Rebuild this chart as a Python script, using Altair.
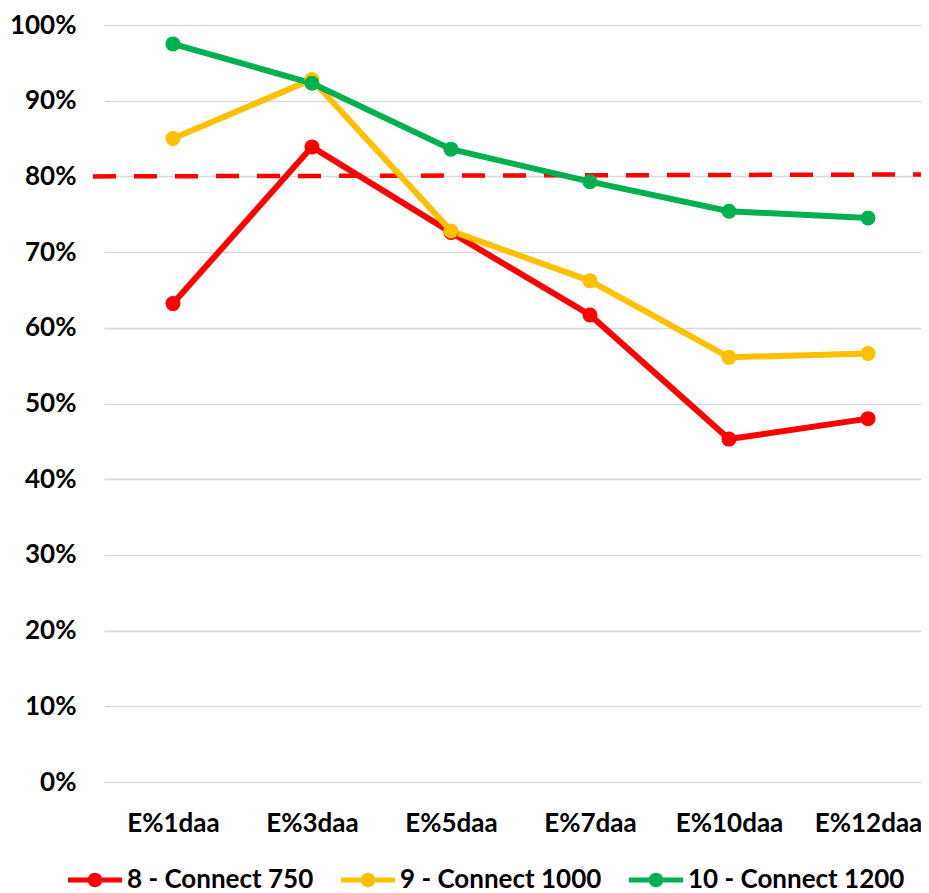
import json
import math
import altair as alt
import pandas as pd

categories = ["E%1daa", "E%3daa", "E%5daa", "E%7daa", "E%10daa", "E%12daa"]
series_names = ["8 - Connect 750", "9 - Connect 1000", "10 - Connect 1200"]
connect_750 = [0.632, 0.839, 0.726, 0.617, 0.453, 0.480]
connect_1000 = [0.850, 0.928, 0.728, 0.662, 0.561, 0.566]
connect_1200 = [0.975, 0.923, 0.836, 0.793, 0.754, 0.745]
series_colors = ["#FF0000", "#FFC000", "#00B050"]
threshold = [0.800, 0.8025]

rows = []
for name, vals in zip(series_names, [connect_750, connect_1000, connect_1200]):
    for i, (c, v) in enumerate(zip(categories, vals)):
        rows.append({"series": name, "cat": c, "idx": i, "value": v})
df = pd.DataFrame(rows)

W, H = 817, 757
FONT = "Lato"
FS = 26

label_expr = json.dumps(categories) + "[datum.value]"

x_enc = alt.X(
    "idx:Q",
    scale=alt.Scale(domain=[-0.496, 5.381], nice=False, zero=False),
    axis=alt.Axis(
        values=list(range(len(categories))),
        labelExpr=label_expr,
        title=None,
        grid=False,
        domain=False,
        ticks=False,
        labelPadding=28,
        labelFontSize=FS,
        labelFont=FONT,
        labelFontWeight="bold",
        labelColor="#000000",
    ),
)
y_enc = alt.Y(
    "value:Q",
    scale=alt.Scale(domain=[0, 1], nice=False),
    axis=alt.Axis(
        values=[i / 10 for i in range(11)],
        format=".0%",
        title=None,
        grid=True,
        gridColor="#d9d9d9",
        gridWidth=1.5,
        domain=False,
        ticks=False,
        labelPadding=28,
        labelFontSize=FS,
        labelFont=FONT,
        labelFontWeight="bold",
        labelColor="#000000",
    ),
)

# legend glyph: a short line with a dot in the middle (unit square coords)
r = 0.27
circle_pts = [
    (r * math.cos(2 * math.pi * k / 24), r * math.sin(2 * math.pi * k / 24))
    for k in range(24)
]
symbol_path = "M-1,-0.095L1,-0.095L1,0.095L-1,0.095Z" + "M" + "L".join(
    f"{px:.3f},{py:.3f}" for px, py in circle_pts
) + "Z"

rule_df = pd.DataFrame({"y": [threshold[0]], "y2": [threshold[1]]})
rule = alt.Chart(rule_df).mark_rule(
    color="#FF0000", strokeWidth=4.5, strokeDash=[23, 18]
).encode(
    x=alt.value(-11),
    x2=alt.value(W),
    y=alt.Y("y:Q"),
    y2="y2:Q",
)

# one line layer per series (red, yellow, green on top), no legend here
line_layers = []
for name, col in zip(series_names, series_colors):
    sub = df[df["series"] == name]
    line_layers.append(
        alt.Chart(sub).mark_line(strokeWidth=6, color=col).encode(x=x_enc, y=y_enc)
    )

points = alt.Chart(df).mark_point(filled=True, size=225, opacity=1, strokeWidth=0).encode(
    x=x_enc,
    y=y_enc,
    fill=alt.Fill(
        "series:N",
        scale=alt.Scale(domain=series_names, range=series_colors),
        legend=alt.Legend(
            title=None,
            orient="none",
            direction="horizontal",
            columns=3,
            legendX=-36,
            legendY=828,
            symbolType=symbol_path,
            symbolSize=2916,
            symbolStrokeWidth=0,
            labelOffset=5,
            columnPadding=27,
            labelFontSize=FS,
            labelFont=FONT,
            labelFontWeight="bold",
            labelColor="#000000",
            labelLimit=400,
        ),
    ),
)

chart = alt.layer(rule, *line_layers, points).properties(
    width=W,
    height=H,
    autosize=alt.AutoSizeParams(type="none"),
    padding={"left": 96, "top": 17, "right": 0, "bottom": 111},
).configure_view(stroke=None)

chart.save("out.html", embed_options={"renderer": "svg", "actions": False})
